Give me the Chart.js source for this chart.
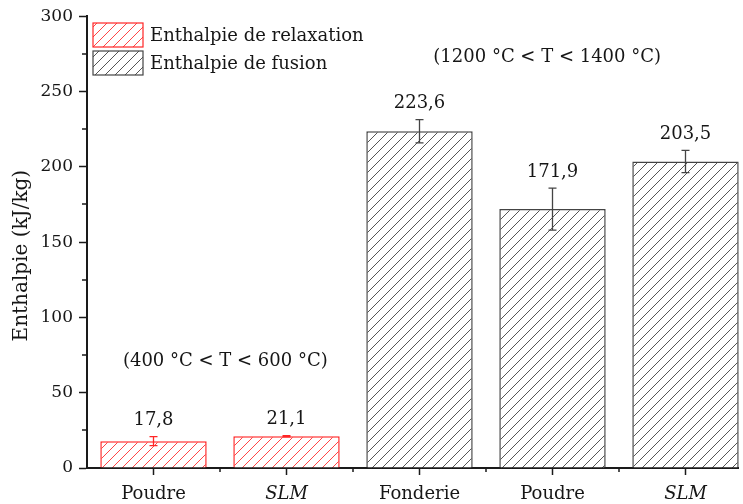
<!DOCTYPE html>
<html>
<head>
<meta charset="utf-8">
<script src="https://cdn.jsdelivr.net/npm/chart.js@4.4.1/dist/chart.umd.min.js"></script>
<style>
  html, body { margin: 0; padding: 0; background: #fff; overflow: hidden; }
  #wrap { width: 739px; height: 504px; overflow: hidden; }
  #chart { display: block; }
</style>
</head>
<body>
<div id="wrap"><canvas id="chart" width="760" height="504"></canvas></div>
<script>
// values
const categories = ['Poudre', 'SLM', 'Fonderie', 'Poudre', 'SLM'];
const relaxation = [17.8, 21.1, null, null, null];
const fusion = [null, null, 223.6, 171.9, 203.5];
const errors = [3.0, 0.4, 7.7, 13.9, 7.4];
const seriesNames = ['Enthalpie de relaxation', 'Enthalpie de fusion'];
const rangeNotes = ['(400 °C < T < 600 °C)', '(1200 °C < T < 1400 °C)'];
const yTitle = 'Enthalpie (kJ/kg)';

const FONT = 'DejaVu Serif';
const TEXT = '#161616';
const AXIS = '#1a1a1a';
const RED = '#ff2626';
const RED_HATCH = '#ff4646';
const GRAY = '#444';
const GRAY_HATCH = '#555';

// diagonal "/" hatch
function hatch(color) {
  const s = 10;
  const c = document.createElement('canvas');
  c.width = c.height = s;
  const g = c.getContext('2d');
  g.fillStyle = '#fff';
  g.fillRect(0, 0, s, s);
  g.strokeStyle = color;
  g.lineWidth = 1;
  g.beginPath();
  g.moveTo(0, s); g.lineTo(s, 0);
  g.moveTo(-1, 1); g.lineTo(1, -1);
  g.moveTo(s - 1, s + 1); g.lineTo(s + 1, s - 1);
  g.stroke();
  return g.createPattern(c, 'repeat');
}
const redFill = hatch(RED_HATCH);
const grayFill = hatch(GRAY_HATCH);

const fmt = v => v.toFixed(1).replace('.', ',');

// error bars + value labels
const errorBars = {
  id: 'errorBars',
  afterDatasetsDraw(chart) {
    const { ctx, scales: { x, y } } = chart;
    ctx.save();
    categories.forEach((c, i) => {
      const isRelax = relaxation[i] != null;
      const v = isRelax ? relaxation[i] : fusion[i];
      const e = errors[i];
      const px = x.getPixelForValue(i);
      const top = y.getPixelForValue(v + e);
      const bot = y.getPixelForValue(v - e);
      ctx.strokeStyle = isRelax ? RED : GRAY;
      ctx.lineWidth = 1.3;
      ctx.beginPath();
      ctx.moveTo(px, top); ctx.lineTo(px, bot);
      ctx.moveTo(px - 4, top); ctx.lineTo(px + 4, top);
      ctx.moveTo(px - 4, bot); ctx.lineTo(px + 4, bot);
      ctx.stroke();
      ctx.fillStyle = TEXT;
      ctx.font = `18px "${FONT}"`;
      ctx.textAlign = 'center';
      ctx.textBaseline = 'middle';
      ctx.fillText(fmt(v), px, top - 16);
    });
    ctx.restore();
  }
};

// minor ticks on both axes
const minorTicks = {
  id: 'minorTicks',
  afterDraw(chart) {
    const { ctx, chartArea: a, scales: { x, y } } = chart;
    ctx.save();
    ctx.strokeStyle = AXIS;
    ctx.lineWidth = 1.5;
    ctx.beginPath();
    for (let v = 25; v < 300; v += 50) {
      const py = Math.round(y.getPixelForValue(v));
      ctx.moveTo(a.left - 5, py); ctx.lineTo(a.left, py);
    }
    for (let i = 0; i < categories.length - 1; i++) {
      const px = Math.round(x.getPixelForValue(i + 0.5));
      ctx.moveTo(px, a.bottom); ctx.lineTo(px, a.bottom + 4);
    }
    ctx.stroke();
    ctx.restore();
  }
};

// legend in the top-left corner of the plot, temperature ranges, y title
const insideLegend = {
  id: 'insideLegend',
  afterDraw(chart) {
    const { ctx, scales: { x, y } } = chart;
    ctx.save();
    const items = [
      { fill: redFill, stroke: RED, text: seriesNames[0] },
      { fill: grayFill, stroke: GRAY, text: seriesNames[1] }
    ];
    ctx.font = `18px "${FONT}"`;
    ctx.textBaseline = 'middle';
    ctx.textAlign = 'left';
    items.forEach((it, k) => {
      const top = 23 + k * 28;
      ctx.fillStyle = it.fill;
      ctx.fillRect(93, top, 50, 24);
      ctx.strokeStyle = it.stroke;
      ctx.lineWidth = 1.2;
      ctx.strokeRect(93, top, 50, 24);
      ctx.fillStyle = TEXT;
      ctx.fillText(it.text, 150, top + 13);
    });

    ctx.textAlign = 'center';
    ctx.fillText(rangeNotes[0], x.getPixelForValue(0.54), y.getPixelForValue(71));
    ctx.fillText(rangeNotes[1], x.getPixelForValue(2.96), y.getPixelForValue(272.5));

    // axis title sits a bit below the axis middle
    ctx.translate(22, y.getPixelForValue(141));
    ctx.rotate(-Math.PI / 2);
    ctx.font = `20px "${FONT}"`;
    ctx.fillText(yTitle, 0, 0);
    ctx.restore();
  }
};

new Chart(document.getElementById('chart'), {
  type: 'bar',
  data: {
    labels: categories,
    datasets: [
      { label: seriesNames[0], data: relaxation, backgroundColor: redFill, borderColor: RED, borderWidth: 1.5 },
      { label: seriesNames[1], data: fusion, backgroundColor: grayFill, borderColor: GRAY, borderWidth: 1.5 }
    ]
  },
  options: {
    responsive: false,
    animation: false,
    devicePixelRatio: 1,
    layout: { padding: { top: 16, right: 8, bottom: 0, left: 0 } },
    datasets: { bar: { grouped: false, barPercentage: 0.8, categoryPercentage: 1 } },
    plugins: { legend: { display: false }, tooltip: { enabled: false } },
    scales: {
      x: {
        grid: { drawOnChartArea: false, offset: false, tickLength: 7, tickWidth: 1.5, tickColor: AXIS },
        border: { color: AXIS, width: 2 },
        ticks: {
          color: TEXT,
          padding: 9,
          font: c => ({ family: FONT, size: 18, style: categories[c.index] === 'SLM' ? 'italic' : 'normal' })
        },
        afterFit: s => { s.height = 36; }
      },
      y: {
        min: 0,
        max: 300,
        grid: { drawOnChartArea: false, tickLength: 8, tickWidth: 1.5, tickColor: AXIS },
        border: { color: AXIS, width: 2 },
        ticks: { stepSize: 50, color: TEXT, padding: 6, font: { family: FONT, size: 17 } },
        title: { display: false },
        afterFit: s => { s.width = 87; }
      }
    }
  },
  plugins: [errorBars, minorTicks, insideLegend]
});
</script>
</body>
</html>
